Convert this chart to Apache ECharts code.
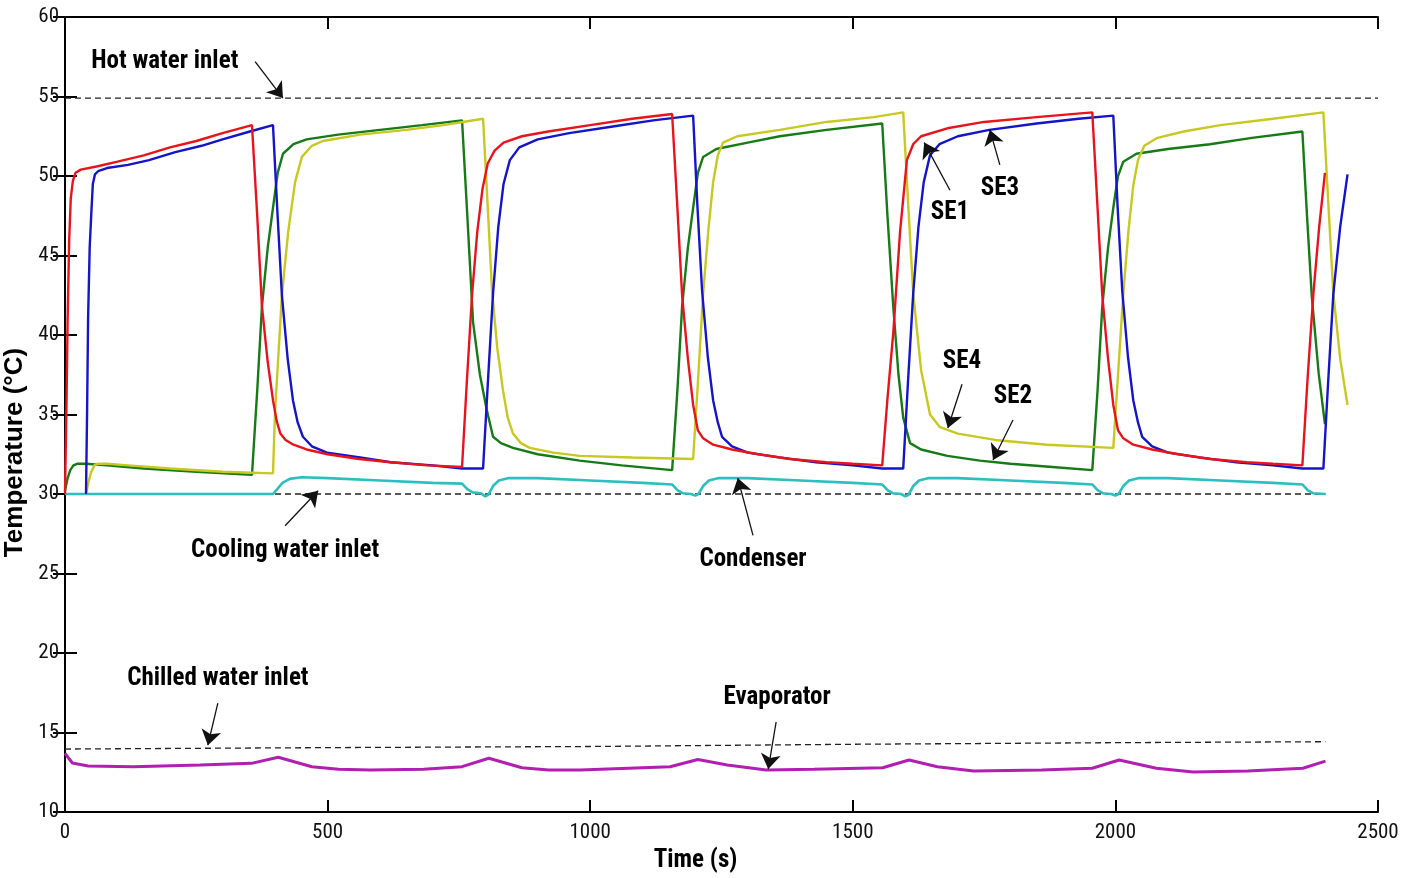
<!DOCTYPE html>
<html>
<head>
<meta charset="utf-8">
<script src="https://cdn.jsdelivr.net/npm/echarts@6/dist/echarts.min.js"></script>
<style>
  html, body { margin: 0; padding: 0; background: #fff; }
  #chart { width: 1415px; height: 878px; }
</style>
</head>
<body>
<div id="chart"></div>
<script>
// ---- Data (time s, temperature °C) ----
const X_TICKS = [0, 500, 1000, 1500, 2000, 2500];
const Y_TICKS = [10, 15, 20, 25, 30, 35, 40, 45, 50, 55, 60];

const SE1 = [[0,30.0],[3,36.0],[5,41.0],[8,46.0],[11,48.6],[15,49.7],[20,50.2],[30,50.4],[60,50.6],[100,50.9],[150,51.3],[200,51.8],[250,52.2],[300,52.7],[356,53.2],
[366,47.5],[375,41.8],[386,38.3],[396,35.9],[403,34.6],[410,33.8],[420,33.4],[435,33.1],[460,32.8],[500,32.5],[560,32.2],[620,32.0],[690,31.8],[756,31.7],
[765,37.0],[775,42.5],[785,46.5],[795,49.2],[805,50.8],[818,51.6],[835,52.1],[870,52.5],[920,52.8],[1000,53.2],[1080,53.6],[1156,53.9],
[1166,48.0],[1175,42.5],[1186,38.5],[1196,35.6],[1205,34.0],[1215,33.5],[1234,33.1],[1270,32.8],[1320,32.5],[1380,32.2],[1450,32.0],[1500,31.9],[1556,31.8],
[1566,36.0],[1577,40.1],[1590,46.5],[1603,51.0],[1615,52.0],[1630,52.5],[1680,53.0],[1750,53.4],[1850,53.7],[1956,54.0],
[1966,48.0],[1975,42.5],[1986,38.5],[1996,35.6],[2005,34.0],[2015,33.5],[2034,33.1],[2070,32.8],[2120,32.5],[2180,32.2],[2250,32.0],[2300,31.9],[2356,31.8],
[2366,37.3],[2377,42.6],[2388,46.8],[2399,50.2]];

const SE3 = [[40,30.0],[42,35.0],[44,41.1],[47,45.5],[50,47.6],[53,49.5],[57,50.1],[63,50.3],[80,50.5],[120,50.7],[160,51.0],[210,51.5],[260,51.9],[300,52.3],[352,52.8],[396,53.2],
[404,48.0],[413,42.5],[424,38.5],[434,35.9],[443,34.5],[453,33.6],[470,33.0],[499,32.6],[562,32.3],[620,32.0],[700,31.8],[756,31.6],[796,31.6],
[806,37.5],[815,42.6],[825,46.8],[835,49.5],[847,51.0],[865,51.8],[900,52.3],[960,52.7],[1040,53.1],[1120,53.5],[1196,53.8],
[1204,48.2],[1213,42.8],[1224,38.6],[1234,35.9],[1243,34.5],[1251,33.6],[1270,33.0],[1300,32.6],[1360,32.3],[1430,32.0],[1500,31.8],[1556,31.6],[1596,31.6],
[1605,37.0],[1615,42.6],[1625,46.8],[1635,49.6],[1647,51.3],[1665,52.0],[1700,52.5],[1760,52.9],[1850,53.3],[1930,53.6],[1996,53.8],
[2004,48.2],[2013,42.8],[2024,38.6],[2034,35.9],[2043,34.5],[2051,33.6],[2070,33.0],[2100,32.6],[2160,32.3],[2230,32.0],[2300,31.8],[2356,31.6],[2396,31.6],
[2405,37.0],[2415,42.6],[2428,46.8],[2442,50.1]];

const SE2 = [[0,30.2],[5,31.0],[10,31.5],[16,31.8],[23,31.9],[40,31.9],[80,31.8],[150,31.6],[250,31.4],[356,31.2],
[366,36.5],[375,41.8],[386,45.5],[396,48.0],[405,50.2],[415,51.4],[435,52.0],[460,52.3],[520,52.6],[600,52.9],[680,53.2],[756,53.5],
[766,47.5],[777,40.8],[790,37.5],[803,35.3],[815,33.6],[830,33.2],[853,32.9],[900,32.5],[980,32.1],[1060,31.8],[1156,31.5],
[1166,36.5],[1175,41.8],[1186,45.5],[1196,48.0],[1205,50.2],[1215,51.2],[1240,51.7],[1300,52.1],[1361,52.5],[1450,52.9],[1556,53.3],
[1566,47.5],[1577,41.8],[1587,37.5],[1596,34.8],[1609,33.2],[1630,32.8],[1680,32.4],[1742,32.1],[1800,31.9],[1880,31.7],[1956,31.5],
[1966,36.5],[1975,41.8],[1986,45.5],[1996,48.0],[2005,50.0],[2015,50.9],[2040,51.4],[2100,51.7],[2180,52.0],[2260,52.4],[2356,52.8],
[2365,47.4],[2374,42.4],[2387,37.6],[2399,34.4]];

const SE4 = [[40,30.0],[45,30.8],[50,31.4],[56,31.8],[62,31.9],[80,31.9],[120,31.8],[200,31.6],[300,31.4],[396,31.3],
[400,35.2],[413,42.5],[425,46.5],[438,49.6],[451,51.2],[470,51.9],[491,52.2],[562,52.6],[650,52.9],[720,53.2],[796,53.6],
[805,48.0],[813,42.8],[823,39.2],[834,36.5],[843,34.8],[853,33.8],[868,33.2],[885,32.9],[930,32.6],[980,32.4],[1080,32.3],[1196,32.2],
[1205,37.0],[1215,42.6],[1225,46.6],[1234,49.6],[1243,51.3],[1253,52.1],[1280,52.5],[1361,52.9],[1450,53.4],[1540,53.7],[1596,54.0],
[1605,48.5],[1615,42.6],[1630,37.8],[1647,35.0],[1666,34.2],[1700,33.8],[1771,33.4],[1870,33.1],[1996,32.9],
[2005,37.5],[2015,42.6],[2025,46.6],[2034,49.4],[2043,51.0],[2055,51.9],[2080,52.4],[2130,52.8],[2200,53.2],[2300,53.6],[2396,54.0],
[2405,48.5],[2415,42.6],[2428,38.5],[2442,35.6]];

const CONDENSER = [[0,30.0],[396,30.0],[404,30.3],[414,30.7],[428,30.95],[450,31.05],[500,31.0],[600,30.85],[700,30.7],[756,30.65],
[766,30.3],[776,30.1],[792,30.05],[800,29.85],[806,29.95],[815,30.5],[826,30.85],[845,31.0],[900,31.0],[1000,30.85],[1100,30.7],[1156,30.6],
[1166,30.25],[1176,30.05],[1192,30.0],[1200,29.9],[1206,30.0],[1215,30.5],[1226,30.85],[1245,31.0],[1300,31.0],[1400,30.85],[1500,30.7],[1556,30.6],
[1566,30.25],[1576,30.05],[1592,30.0],[1600,29.85],[1606,29.95],[1615,30.5],[1626,30.85],[1645,31.0],[1700,31.0],[1800,30.85],[1900,30.7],[1956,30.6],
[1966,30.25],[1976,30.05],[1992,30.0],[2000,29.9],[2006,30.0],[2015,30.5],[2026,30.85],[2045,31.0],[2100,31.0],[2200,30.85],[2300,30.7],[2356,30.6],
[2366,30.25],[2376,30.05],[2400,30.0]];

const EVAPORATOR = [[0,13.69],[14,13.08],[44,12.89],[130,12.85],[257,12.96],[355,13.06],[406,13.44],[470,12.85],[521,12.69],[581,12.64],[683,12.69],[756,12.85],
[807,13.38],[870,12.78],[921,12.64],[981,12.64],[1152,12.85],[1205,13.3],[1261,12.96],[1335,12.64],[1426,12.69],[1557,12.78],
[1607,13.27],[1661,12.85],[1730,12.58],[1860,12.64],[1956,12.75],[2007,13.27],[2078,12.75],[2148,12.52],[2252,12.58],[2357,12.75],[2400,13.2]];

const HOT_INLET = [[0,54.9],[2500,54.9]];
const COOLING_INLET = [[0,30.0],[2400,30.0]];
const CHILLED_INLET = [[0,13.96],[500,14.05],[1000,14.12],[1500,14.26],[2000,14.36],[2400,14.42]];

// Annotation texts (centre in data coords) and arrows (from -> to)
const LABELS = [
  {name:'Hot water inlet', value:[190,57.2]},
  {name:'Cooling water inlet', value:[419,26.4]},
  {name:'Condenser', value:[1310,25.85]},
  {name:'Chilled water inlet', value:[291,18.4]},
  {name:'Evaporator', value:[1356,17.2]},
  {name:'SE1', value:[1685,47.7]},
  {name:'SE3', value:[1780,49.2]},
  {name:'SE4', value:[1708,38.3]},
  {name:'SE2', value:[1805,36.1]}
];
const ARROWS = [
  {from:[362,57.2], to:[415,54.9]},
  {from:[419,28.0], to:[482,30.2]},
  {from:[1310,27.4], to:[1281,31.0]},
  {from:[291,16.85], to:[272,14.2]},
  {from:[1354,15.66], to:[1339,12.7]},
  {from:[1685,49.1], to:[1636,52.1]},
  {from:[1780,50.7], to:[1761,52.9]},
  {from:[1708,36.9], to:[1681,34.15]},
  {from:[1805,34.65], to:[1767,32.14]}
];

const NARROW = "'Liberation Sans Narrow', 'Arial Narrow', 'Roboto Condensed', 'Liberation Sans', sans-serif";

function curve(name, data, color, w) {
  return { name, type:'line', data, showSymbol:false, symbol:'none',
    lineStyle:{ color, width:w || 2.4 }, itemStyle:{color}, z:3, silent:true };
}
function dashed(name, data) {
  return { name, type:'line', data, showSymbol:false, symbol:'none',
    lineStyle:{ color:'#222', width:1.3, type:[6,4] }, z:2, silent:true };
}

const chart = echarts.init(document.getElementById('chart'), null, {renderer:'canvas'});
const axisLineStyle = { show:true, lineStyle:{ color:'#000', width:2 } };
const tickStyle = { show:true, inside:true, length:12, lineStyle:{color:'#000', width:2} };
chart.setOption({
  animation:false,
  backgroundColor:'#fff',
  grid:{ left:65, right:37, top:17, bottom:66, containLabel:false, outerBoundsMode:'none' },
  xAxis:[{
    type:'value', min:X_TICKS[0], max:X_TICKS[X_TICKS.length-1], interval:500,
    name:'Time (s)', nameLocation:'middle', nameGap:34,
    nameTextStyle:{ fontFamily:NARROW, fontWeight:'bold', fontSize:25, color:'#000', padding:[0,52,0,0] },
    axisLine:axisLineStyle, axisTick:tickStyle,
    axisLabel:{ fontFamily:NARROW, fontSize:21, color:'#111', margin:10, formatter:(v)=>String(v) },
    splitLine:{ show:false }
  },{
    type:'value', position:'top', min:0, max:2500, interval:500,
    axisLine:axisLineStyle, axisTick:tickStyle,
    axisLabel:{ show:false }, splitLine:{ show:false }
  }],
  yAxis:[{
    type:'value', min:Y_TICKS[0], max:Y_TICKS[Y_TICKS.length-1], interval:5,
    name:'Temperature (°C)', nameLocation:'middle', nameGap:31, nameRotate:90,
    nameTextStyle:{ fontFamily:"'Liberation Sans', Arial, sans-serif", fontWeight:'bold', fontSize:26, color:'#000', padding:[0,76,0,0] },
    axisLine:axisLineStyle, axisTick:tickStyle,
    axisLabel:{ fontFamily:NARROW, fontSize:21, color:'#111', margin:6, formatter:(v)=>String(v) },
    splitLine:{ show:false }
  },{
    type:'value', position:'right', min:10, max:60, interval:5,
    axisLine:axisLineStyle, axisTick:tickStyle,
    axisLabel:{ show:false }, splitLine:{ show:false }
  }],
  series:[
    dashed('Hot water inlet', HOT_INLET),
    dashed('Cooling water inlet', COOLING_INLET),
    dashed('Chilled water inlet', CHILLED_INLET),
    curve('Condenser', CONDENSER, '#2bbfbf', 2.6),
    curve('Evaporator', EVAPORATOR, '#b01fb0', 3),
    curve('SE2', SE2, '#167a16'),
    curve('SE4', SE4, '#c8c822'),
    curve('SE3', SE3, '#1414c8'),
    curve('SE1', SE1, '#e8141c'),
    {
      name:'annotations', type:'scatter', data:LABELS, symbolSize:1, silent:true, z:5,
      itemStyle:{ color:'rgba(255,255,255,0)', opacity:1 },
      label:{ show:true, position:'inside', formatter:'{b}', fontFamily:NARROW, fontWeight:'bold',
              fontSize:25, color:'#000', textBorderWidth:0, opacity:1 },
      markLine:{
        silent:true, animation:false, symbolSize:15, precision:2,
        label:{ show:false },
        lineStyle:{ color:'#111', width:1.3, type:'solid', opacity:1 },
        data: ARROWS.map(a => [{ coord:a.from, symbol:'none' }, { coord:a.to, symbol:'arrow' }])
      }
    }
  ]
});
</script>
</body>
</html>
